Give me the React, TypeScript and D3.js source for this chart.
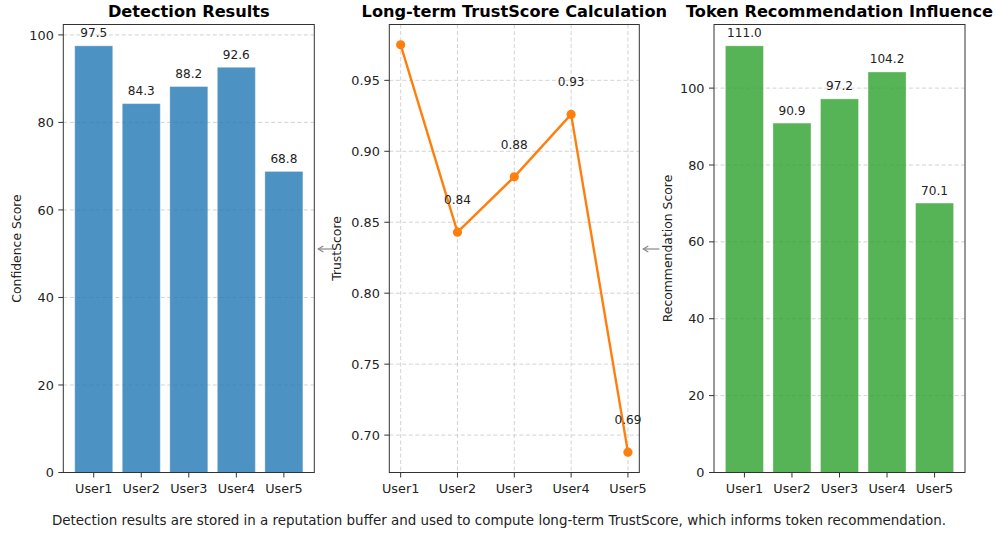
import React from 'react';
import * as d3 from 'd3';

const users = ['User1', 'User2', 'User3', 'User4', 'User5'];
const detection = [97.5, 84.3, 88.2, 92.6, 68.8];
const trust = [0.975, 0.843, 0.882, 0.926, 0.688];
const recommendation = [111.0, 90.9, 97.2, 104.2, 70.1];
const detTicks = [0, 20, 40, 60, 80, 100];
const trustTicks = [0.7, 0.75, 0.8, 0.85, 0.9, 0.95];
const recTicks = [0, 20, 40, 60, 80, 100];
const titles = ['Detection Results', 'Long-term TrustScore Calculation', 'Token Recommendation Influence'];
const yLabels = ['Confidence Score', 'TrustScore', 'Recommendation Score'];
const caption = 'Detection results are stored in a reputation buffer and used to compute long-term TrustScore, which informs token recommendation.';

const W = 996;
const H = 533;
const TOP = 24.5;
const BOT = 472.5;
const FONT = 'DejaVu Sans';
const SPINE = '#333';
const GRID = '#c8c8c8';
const TICKF = 12.8;
const LABF = 12.4;
const VALF = 12.1;

type AxisProps = {
  x0: number; x1: number; title: string; ylabel: string; ylabelX: number;
  y: d3.ScaleLinear<number, number>; x: d3.ScaleLinear<number, number>;
  yticks: number[]; fmt: (v: number) => string; vgrid: boolean;
  children?: React.ReactNode;
};

function Axes({ x0, x1, title, ylabel, ylabelX, y, x, yticks, fmt, vgrid, children }: AxisProps) {
  return (
    <g>
      {yticks.map((t) => (
        <line key={'gy' + t} x1={x0} x2={x1} y1={y(t)} y2={y(t)} stroke={GRID} strokeWidth={0.8} strokeDasharray="4,2.5" />
      ))}
      {vgrid && users.map((u, i) => (
        <line key={'gx' + u} x1={x(i)} x2={x(i)} y1={TOP} y2={BOT} stroke={GRID} strokeWidth={0.8} strokeDasharray="4,2.5" />
      ))}
      {children}
      <rect x={x0} y={TOP} width={x1 - x0} height={BOT - TOP} fill="none" stroke={SPINE} strokeWidth={1} />
      {yticks.map((t) => (
        <g key={'ty' + t}>
          <line x1={x0 - 5} x2={x0} y1={y(t)} y2={y(t)} stroke={SPINE} strokeWidth={1} />
          <text x={x0 - 9.5} y={y(t)} dy="0.36em" textAnchor="end" fontSize={TICKF} fill="#222">{fmt(t)}</text>
        </g>
      ))}
      {users.map((u, i) => (
        <g key={'tx' + u}>
          <line x1={x(i)} x2={x(i)} y1={BOT} y2={BOT + 5} stroke={SPINE} strokeWidth={1} />
          <text x={x(i)} y={BOT + 20.5} textAnchor="middle" fontSize={TICKF} fill="#222">{u}</text>
        </g>
      ))}
      <text x={(x0 + x1) / 2} y={17} textAnchor="middle" fontSize={16.2} fontWeight="bold" fill="#000">{title}</text>
      <text transform={`translate(${ylabelX},${(TOP + BOT) / 2}) rotate(-90)`} textAnchor="middle" fontSize={LABF} fill="#222">{ylabel}</text>
    </g>
  );
}

function BarPanel({ x0, x1, values, ticks, color, title, ylabel, ylabelX }: {
  x0: number; x1: number; values: number[]; ticks: number[]; color: string; title: string; ylabel: string; ylabelX: number;
}) {
  const x = d3.scaleLinear().domain([-0.64, 4.64]).range([x0, x1]);
  const ymax = (d3.max(values) as number) * 1.05;
  const y = d3.scaleLinear().domain([0, ymax]).range([BOT, TOP]);
  const bw = x(0.8) - x(0);
  return (
    <Axes x0={x0} x1={x1} title={title} ylabel={ylabel} ylabelX={ylabelX} y={y} x={x} yticks={ticks} fmt={(v) => String(v)} vgrid={false}>
      {values.map((v, i) => (
        <g key={i}>
          <rect x={x(i) - bw / 2} y={y(v)} width={bw} height={BOT - y(v)} fill={color} fillOpacity={0.8} stroke="#ffffff" strokeOpacity={0.35} strokeWidth={1} />
          <text x={x(i)} y={y(v) - 8.5} textAnchor="middle" fontSize={VALF} fill="#222">{v.toFixed(1)}</text>
        </g>
      ))}
    </Axes>
  );
}

function LinePanel({ x0, x1 }: { x0: number; x1: number }) {
  const x = d3.scaleLinear().domain([-0.2, 4.2]).range([x0, x1]);
  const lo = d3.min(trust) as number;
  const hi = d3.max(trust) as number;
  const m = (hi - lo) * 0.05;
  const y = d3.scaleLinear().domain([lo - m, hi + m]).range([BOT, TOP]);
  const line = d3.line<number>().x((_, i) => x(i)).y((d) => y(d));
  return (
    <Axes x0={x0} x1={x1} title={titles[1]} ylabel={yLabels[1]} ylabelX={341} y={y} x={x} yticks={trustTicks} fmt={(v) => v.toFixed(2)} vgrid={true}>
      <path d={line(trust) || ''} fill="none" stroke="#ff7f0e" strokeWidth={2.4} strokeLinejoin="round" />
      {trust.map((v, i) => (
        <circle key={i} cx={x(i)} cy={y(v)} r={4.6} fill="#ff7f0e" />
      ))}
      {trust.map((v, i) => i === 0 ? null : (
        <text key={'l' + i} x={x(i)} y={y(v) - 28} textAnchor="middle" fontSize={VALF} fill="#222">{v.toFixed(2)}</text>
      ))}
    </Axes>
  );
}

function Arrow({ xHead, xTail, yy }: { xHead: number; xTail: number; yy: number }) {
  return (
    <g stroke="#888" strokeWidth={1.2} fill="none">
      <line x1={xTail} x2={xHead} y1={yy} y2={yy} />
      <path d={`M${xHead + 5},${yy - 3} L${xHead},${yy} L${xHead + 5},${yy + 3}`} />
    </g>
  );
}

export default function App() {
  return (
    <svg width={W} height={H} style={{ position: 'absolute', left: 0, top: 0, background: '#fff' }} fontFamily={FONT}>
      <rect width={W} height={H} fill="#fff" />
      <BarPanel x0={63.3} x1={314.3} values={detection} ticks={detTicks} color="#1f77b4" title={titles[0]} ylabel={yLabels[0]} ylabelX={20.5} />
      <LinePanel x0={389.3} x1={639.3} />
      <BarPanel x0={714} x1={965} values={recommendation} ticks={recTicks} color="#2ca02c" title={titles[2]} ylabel={yLabels[2]} ylabelX={671.5} />
      <Arrow xHead={318.3} xTail={333.3} yy={249} />
      <Arrow xHead={643.3} xTail={659.3} yy={249} />
      <text x={499} y={524.5} textAnchor="middle" fontSize={13.45} fill="#222">{caption}</text>
    </svg>
  );
}
